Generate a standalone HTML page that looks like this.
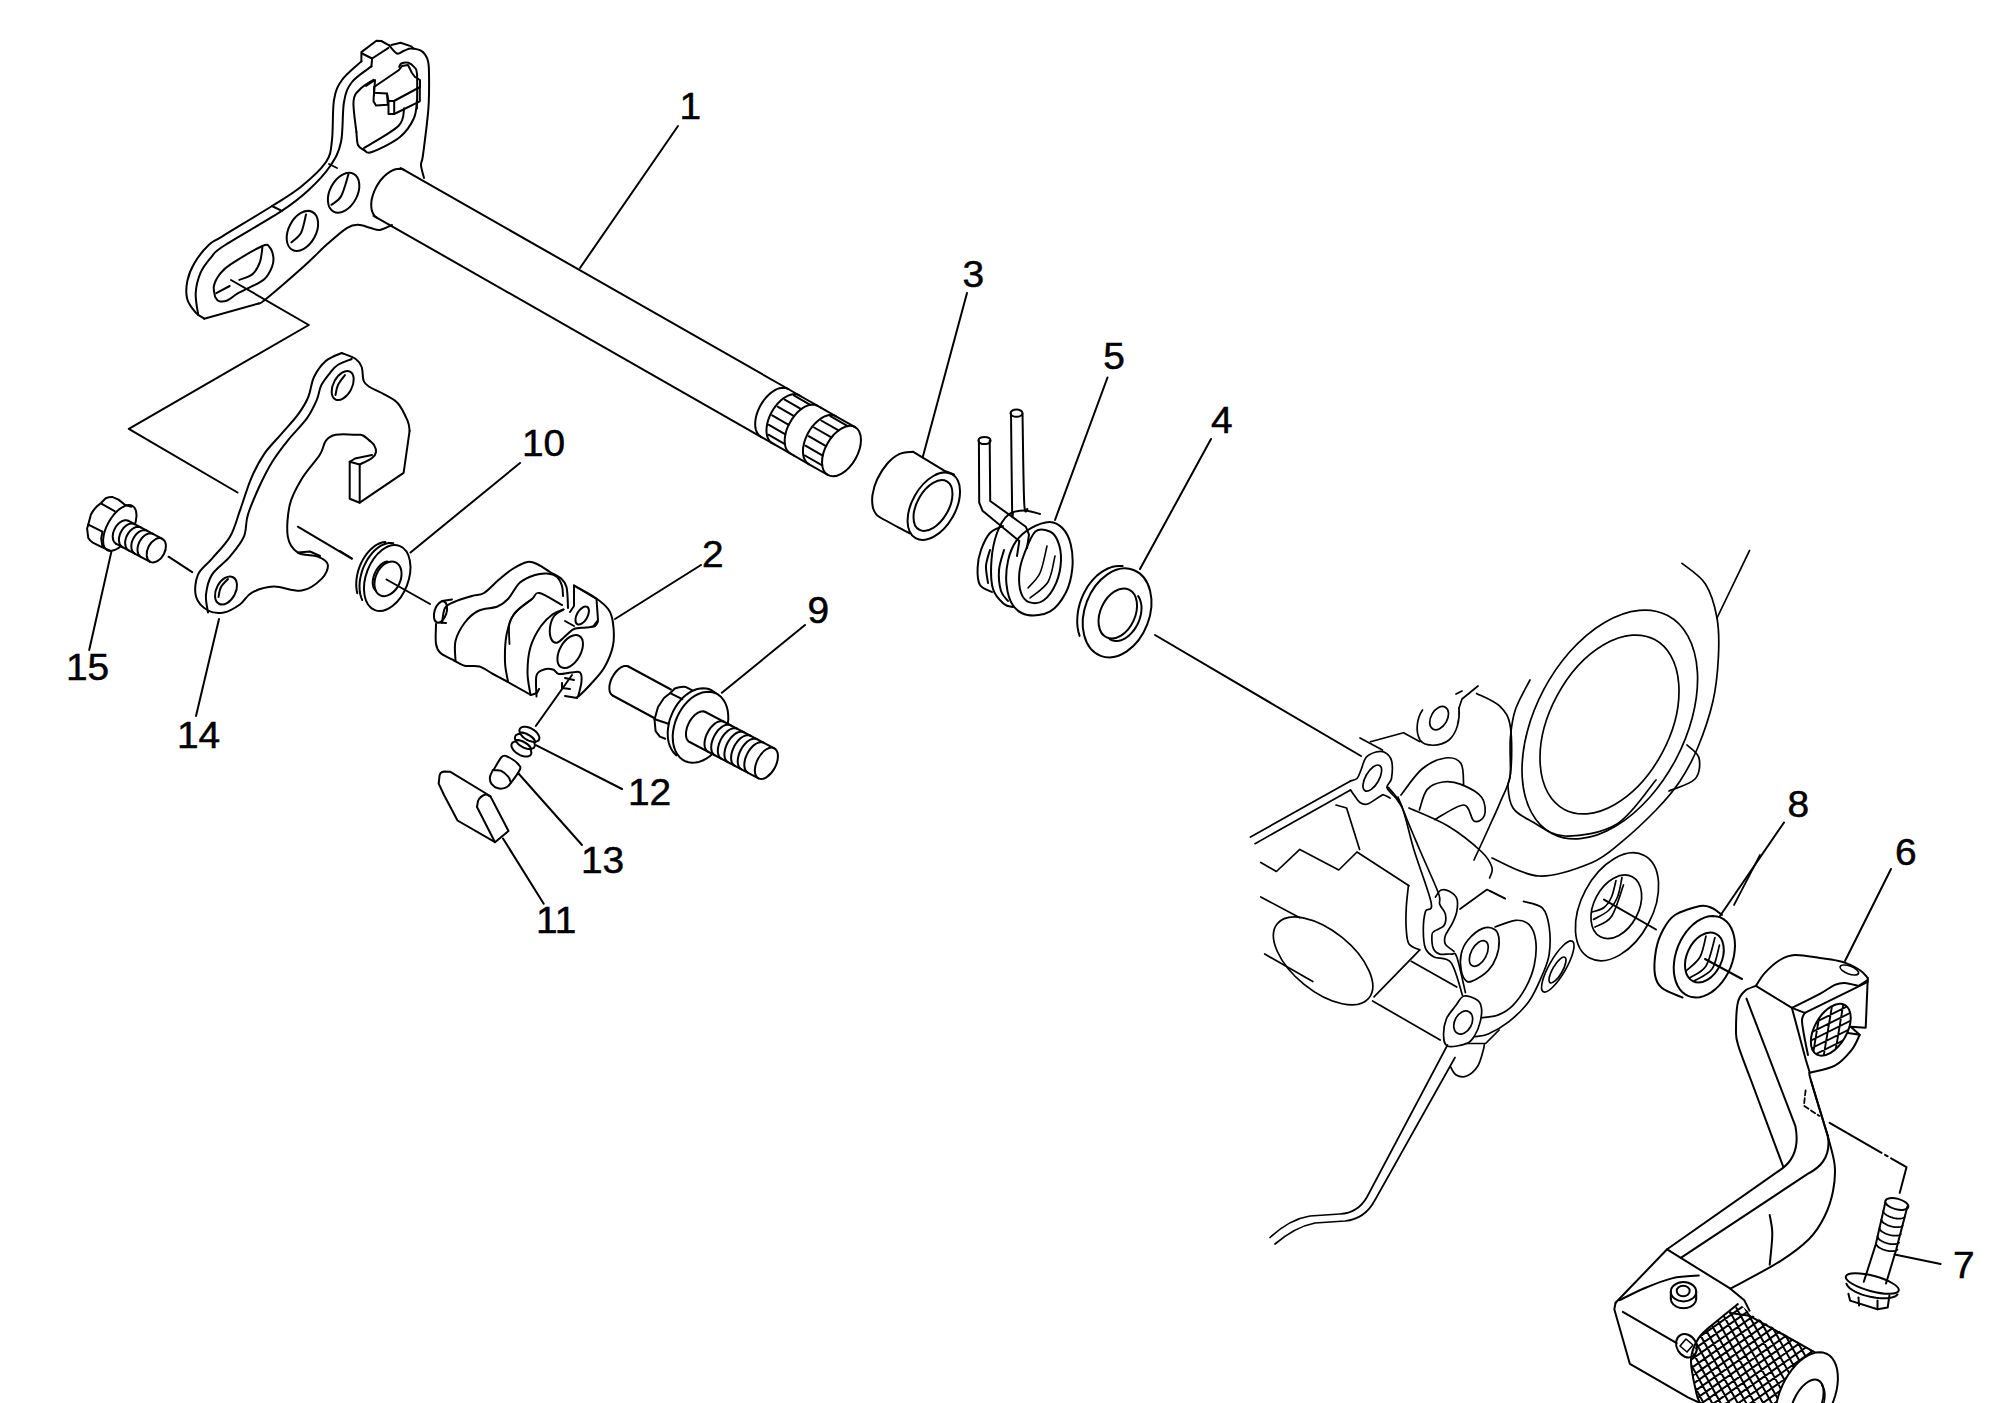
<!DOCTYPE html>
<html><head><meta charset="utf-8"><style>
html,body{margin:0;padding:0;background:#fff;}
svg{display:block;}
text{font-family:"Liberation Sans",sans-serif;fill:#000;}
</style></head><body>
<svg width="2000" height="1403" viewBox="0 0 2000 1403">
<rect width="2000" height="1403" fill="#fff"/>
<g fill="none" stroke="#000" stroke-linejoin="round" stroke-linecap="round">
<path d="M204.2,318.7 C202.8,317.7 198.5,315.8 195.7,312.6 C192.9,309.4 188.7,304.6 187.3,299.3 C185.9,294.1 186.1,287.2 187.3,281.1 C188.5,275.1 190.9,269.1 194.5,263 C198.1,256.9 204.3,249.2 209,244.8 C213.7,240.4 211.9,242.8 222.4,236.3 C232.9,229.8 258.9,214.3 272,206 C285.1,197.7 292,194 301,186.7 C310,179.4 320.8,169.8 326,162 C331.2,154.2 330.7,150.3 332,140 C333.3,129.7 332.3,110 334,100 C335.7,90 337.4,86.4 342,80 C346.6,73.6 358.2,64.5 361.4,61.4" stroke-width="2"/>
<path d="M198.2,315 C197.8,311.4 195.3,300.2 195.7,293.2 C196.1,286.1 198,278.8 200.6,272.7 C203.2,266.6 207.7,261.3 211.5,256.9 C215.3,252.4 211.9,253.7 223.6,246 C235.3,238.3 267.7,220.2 281.8,210.9 C295.9,201.6 300.3,197.8 308.4,190.3 C316.5,182.8 324.8,174.1 330.2,166 C335.6,157.9 338.7,152.7 341,142 C343.3,131.3 342.2,112 344,102 C345.8,92 347.4,87.9 352,82 C356.6,76.1 368.2,69 371.4,66.4" stroke-width="2"/>
<path d="M272,206 L281.8,210.9" stroke-width="2"/>
<path d="M329,164 L337,168" stroke-width="1.8"/>
<path d="M361.4,61.4 L361.4,52.1 L376.4,40.7 L381.3,41 L389.2,45.3" stroke-width="2"/>
<path d="M362.1,53.5 L372.1,58.5 L388.5,47.8" stroke-width="2"/>
<path d="M372.1,58.5 L371.4,66.4" stroke-width="2"/>
<path d="M391.3,45 L400.6,42.8 L411.3,46.4 L413.4,48.5" stroke-width="2"/>
<path d="M389.2,45.3 C390.5,46.7 394.5,52.6 397,53.5 C399.5,54.4 401.6,51.5 404,50.7 C406.4,49.9 408.3,48.4 411.3,48.5 C414.3,48.6 419.3,49.5 422,51.4 C424.7,53.3 426.5,56.4 427.7,60 C428.9,63.6 428.9,64.7 429,72.8 C429.1,80.9 429.4,94.7 428.4,108.4 C427.4,122.1 424.2,145.6 423,155 C421.8,164.4 420.8,161.2 421,165 C421.2,168.8 423.5,175.8 424,178" stroke-width="2"/>
<path d="M204.2,318.7 L258.7,303.5" stroke-width="2"/>
<path d="M258.7,303.5 C259.9,302.8 258.3,305.4 266,299 C273.7,292.6 294.5,274.6 304.8,265.4 C315.1,256.2 320.7,249.9 327.8,243.6 C334.9,237.3 342.1,230.9 347.2,227.8 C352.2,224.7 354.3,224.8 358.1,224.8 C361.9,224.8 366.6,226.9 370.2,227.8 C373.8,228.7 376.4,230.5 380,230 C383.6,229.5 390,225.8 392,225" stroke-width="2"/>
<path d="M356.4,132 C355.9,126.9 352.9,108.4 353.5,101.3 C354.1,94.2 356.7,92.8 360,89.2 C363.3,85.6 371.2,81.5 373.5,79.9" stroke-width="2"/>
<path d="M417,108.4 C417,102.7 417.5,81.1 417,74.2 C416.5,67.3 415.5,68.9 414.1,67 C412.7,65.1 410.5,63.4 408.4,62.8 C406.3,62.2 402.8,62.8 401.3,63.5 C399.8,64.2 399.6,66.4 399.2,67" stroke-width="2"/>
<path d="M356.4,132 C356.7,134.2 356.7,142 358,145 C359.3,148 361.7,148.8 364,150 C366.3,151.2 366,154.2 372,152 C378,149.8 393,142.7 400,137 C407,131.3 411.2,124.2 414,118 C416.8,111.8 416.5,103 417,100" stroke-width="2"/>
<path d="M364,148 C369.7,144.3 391.7,132.6 398.4,126 C405.1,119.4 403.2,111.3 404.1,108.4" stroke-width="2"/>
<path d="M374,87 L399,70 L402,66 L408,65 L412,73 L415,77 L420,80 L420,87 L394,101 L388.5,101 L387,93.4 L374,92.7 Z" stroke-width="2"/>
<path d="M374,92.7 L373.5,101.3 L376,105.6 L387.8,104.8 L387,93.4" stroke-width="2"/>
<path d="M388.5,101.3 L388.5,114 L394.2,114 L394.2,101.3" stroke-width="2"/>
<path d="M394.2,114 L419.8,101.3 L419.8,87" stroke-width="2"/>
<path d="M366,86 L375,80 L374,95" stroke-width="2"/>
<path d="M215.1,296.9 C214.9,295.1 213.1,289.8 213.9,286 C214.7,282.2 217.2,277.5 220,273.9 C222.8,270.3 223.8,268.8 230.9,264.2 C238,259.6 255.9,248.8 262.4,246 C268.8,243.2 267.8,245.4 269.6,247.2 C271.4,249 272.9,253.7 273.3,256.9 C273.7,260.1 273.5,263 272.1,266.6 C270.7,270.2 268.4,275.3 264.8,278.7 C261.2,282.1 254.8,284.8 250.3,287.2 C245.9,289.6 241.9,291 238.1,293.2 C234.2,295.4 230.4,299.2 227.2,300.5 C224,301.8 220.8,301.7 218.8,301.1 C216.8,300.5 215.7,297.6 215.1,296.9" stroke-width="2"/>
<path d="M216.3,293.2 L229.7,286" stroke-width="2"/>
<path d="M239.4,279.9 C241.6,278.9 249.3,276.9 252.7,273.9 C256.1,270.9 258.4,266.2 260,261.8 C261.6,257.4 262,249.6 262.4,247.2" stroke-width="2"/>
<ellipse cx="302.4" cy="230.9" rx="21.4" ry="13.7" transform="rotate(-62 302.4 230.9)" stroke-width="2"/>
<path d="M291.4,242.4 C293,240.8 298.7,237.3 301.1,232.7 C303.5,228 305.2,217.5 306,214.5" stroke-width="2"/>
<ellipse cx="343.6" cy="192.7" rx="21.4" ry="13.7" transform="rotate(-62 343.6 192.7)" stroke-width="2"/>
<path d="M331.4,204.8 C333,203.4 338.3,201.4 341.1,196.3 C343.9,191.2 347.2,178.1 348.4,174.5" stroke-width="2"/>
<path d="M400.8,168.1 L788.2,389" stroke-width="2"/>
<path d="M373.6,215.8 L761,436.8" stroke-width="2"/>
<path d="M377,217.8 L375.7,216.9 L374.4,215.6 L373.4,214.2 L372.6,212.5 L371.9,210.7 L371.5,208.6 L371.3,206.4 L371.2,204 L371.4,201.6 L371.8,199 L372.5,196.4 L373.3,193.8 L374.3,191.2 L375.5,188.6 L376.8,186 L378.3,183.6 L379.9,181.2 L381.7,179 L383.5,177 L385.5,175.1 L387.5,173.5 L389.5,172.1 L391.5,170.9 L393.5,170 L395.5,169.3 L397.5,168.9 L399.3,168.8 L401.1,168.9 L402.8,169.3 L404.3,170" stroke-width="2"/>
<path d="M761,436.8 L759.6,435.8 L758.4,434.6 L757.4,433.2 L756.5,431.5 L755.9,429.7 L755.4,427.6 L755.2,425.4 L755.2,423 L755.4,420.6 L755.8,418 L756.4,415.4 L757.2,412.8 L758.2,410.2 L759.4,407.6 L760.7,405 L762.2,402.6 L763.9,400.2 L765.6,398 L767.5,396 L769.4,394.1 L771.4,392.5 L773.4,391.1 L775.4,389.9 L777.5,388.9 L779.5,388.3 L781.4,387.9 L783.3,387.8 L785,387.9 L786.7,388.3 L788.2,389" stroke-width="2"/>
<path d="M788.2,389 L801.2,396.5" stroke-width="2"/>
<path d="M761,436.8 L774,444.2" stroke-width="2"/>
<path d="M772.3,443.2 L770.9,442.3 L769.7,441.1 L768.6,439.6 L767.8,438 L767.2,436.1 L766.7,434 L766.5,431.8 L766.5,429.5 L766.7,427 L767.1,424.5 L767.7,421.9 L768.5,419.2 L769.5,416.6 L770.7,414 L772,411.5 L773.5,409 L775.2,406.7 L776.9,404.5 L778.8,402.4 L780.7,400.6 L782.7,398.9 L784.7,397.5 L786.7,396.3 L788.8,395.4 L790.8,394.7 L792.7,394.3 L794.6,394.2 L796.3,394.3 L798,394.8 L799.5,395.5" stroke-width="2"/>
<path d="M801.2,396.5 L821.2,407.9" stroke-width="2"/>
<path d="M774,444.2 L794,455.6" stroke-width="2"/>
<path d="M793.8,395.4 L810.3,404.8" stroke-width="2"/>
<path d="M784.7,399.7 L801.2,409.1" stroke-width="2"/>
<path d="M777.6,406.7 L794.1,416.1" stroke-width="2"/>
<path d="M772.2,415.4 L788.7,424.8" stroke-width="2"/>
<path d="M768.9,424.9 L785.4,434.3" stroke-width="2"/>
<path d="M768.4,434.7 L784.9,444.1" stroke-width="2"/>
<path d="M790.5,453.6 L789.1,452.7 L787.9,451.5 L786.9,450 L786,448.4 L785.4,446.5 L785,444.4 L784.7,442.2 L784.7,439.9 L784.9,437.4 L785.3,434.9 L785.9,432.3 L786.7,429.6 L787.7,427 L788.9,424.4 L790.3,421.9 L791.8,419.4 L793.4,417.1 L795.2,414.9 L797,412.8 L798.9,411 L800.9,409.3 L802.9,407.9 L805,406.7 L807,405.8 L809,405.1 L810.9,404.7 L812.8,404.6 L814.6,404.8 L816.2,405.2 L817.8,405.9" stroke-width="2"/>
<path d="M821.2,407.9 L836,416.3" stroke-width="2"/>
<path d="M794,455.6 L808.7,464.1" stroke-width="2"/>
<path d="M808.7,464.1 L807.4,463.1 L806.2,461.9 L805.1,460.4 L804.3,458.8 L803.6,456.9 L803.2,454.8 L803,452.6 L803,450.3 L803.1,447.8 L803.6,445.3 L804.2,442.7 L805,440 L806,437.4 L807.2,434.8 L808.5,432.3 L810,429.8 L811.6,427.5 L813.4,425.3 L815.3,423.2 L817.2,421.4 L819.2,419.7 L821.2,418.3 L823.2,417.1 L825.2,416.2 L827.2,415.5 L829.2,415.1 L831,415 L832.8,415.2 L834.5,415.6 L836,416.3" stroke-width="2"/>
<path d="M830.3,416.2 L847.7,426.1" stroke-width="2"/>
<path d="M821.2,420.5 L838.5,430.4" stroke-width="2"/>
<path d="M814.1,427.5 L831.4,437.4" stroke-width="2"/>
<path d="M808.7,436.2 L826,446.1" stroke-width="2"/>
<path d="M805.4,445.7 L822.7,455.6" stroke-width="2"/>
<path d="M804.9,455.5 L822.2,465.4" stroke-width="2"/>
<path d="M836,416.3 L855.1,427.2" stroke-width="2"/>
<path d="M808.7,464.1 L827.9,475" stroke-width="2"/>
<ellipse cx="841.5" cy="451.1" rx="16" ry="27.5" transform="rotate(29.7 841.5 451.1)" stroke-width="2"/>
<path d="M580,268 L678,126" stroke-width="2"/>
<ellipse cx="933.8" cy="506.2" rx="21.7" ry="36.8" transform="rotate(29.7 933.8 506.2)" stroke-width="2"/>
<ellipse cx="933" cy="505.5" rx="15.8" ry="27.9" transform="rotate(29.7 933 505.5)" stroke-width="2"/>
<path d="M913.3,451.8 C910.9,452.2 903.5,452.2 899.2,454.1 C894.9,456.1 891.1,459.3 887.4,463.5 C883.7,467.7 879.7,474 877.2,479.2 C874.7,484.4 873.2,490.3 872.5,494.9 C871.8,499.5 872.2,503.8 872.8,507 C873.4,510.2 874.5,512.1 876,514 C877.5,515.9 876.4,515.3 882,518.5 C887.6,521.7 904.8,530.8 909.4,533.3" stroke-width="2"/>
<path d="M913.3,451.8 L945.4,471.3 L954,474.5" stroke-width="2"/>
<path d="M967,293 L922.7,457.2" stroke-width="2"/>
<ellipse cx="984.5" cy="440.5" rx="6.1" ry="3.6" transform="rotate(0 984.5 440.5)" stroke-width="2"/>
<ellipse cx="1016.5" cy="413.2" rx="6" ry="3.6" transform="rotate(0 1016.5 413.2)" stroke-width="2"/>
<path d="M978.9,440.9 L979.2,502.6 L982.5,510.7 L1019.3,541.1 L1017,556" stroke-width="2"/>
<path d="M989.7,440.9 L990.2,501 L1025.8,526.7 L1029,534.7 L1027,548" stroke-width="2"/>
<path d="M1011,413.6 C1011.2,429.5 1011.8,492.6 1012.1,509 C1012.4,525.5 1012.9,511.7 1013,512.3" stroke-width="2"/>
<path d="M1022.5,413.6 C1022.8,428.4 1023.4,486.7 1024.2,502.6 C1025,518.5 1026.9,507.9 1027.4,509" stroke-width="2"/>
<path d="M1030.6,528.3 C1036.2,525.1 1044.5,521.9 1049.8,521.9 C1055.1,521.9 1059.1,524.6 1062.6,528.3 C1066.1,532 1069.1,537.6 1070.7,544.3 C1072.3,551 1073.1,560.4 1072.3,568.4 C1071.5,576.4 1069.7,585.3 1065.9,592.5 C1062.2,599.7 1056.2,608 1049.8,611.7 C1043.4,615.4 1033.6,616 1027.4,614.9 C1021.3,613.8 1016.4,610.4 1012.9,605.3 C1009.4,600.2 1007.3,591.9 1006.5,584.4 C1005.7,576.9 1006.5,567.6 1008.1,560.4 C1009.7,553.2 1012.4,546.5 1016.1,541.1 C1019.9,535.8 1025,531.5 1030.6,528.3Z" stroke-width="2"/>
<path d="M1035.4,531.5 C1039.7,527.8 1046.1,529.9 1049.8,531.5 C1053.5,533.1 1055.9,536.3 1057.8,541.1 C1059.7,545.9 1061.3,553.5 1061,560.4 C1060.7,567.3 1059.1,576.1 1056.2,582.8 C1053.3,589.5 1047.9,597.3 1043.4,600.5 C1038.9,603.7 1032.8,603.4 1029,602.1 C1025.2,600.8 1022.5,597.3 1020.9,592.5 C1019.3,587.7 1018.8,579.6 1019.3,573.2 C1019.8,566.8 1021.5,561 1024.2,554 C1026.9,547 1031.1,535.2 1035.4,531.5Z" stroke-width="2"/>
<path d="M1040,514 C1037.3,513.4 1029.3,510.3 1024,510.5 C1018.7,510.7 1012.5,511.2 1008,515 C1003.5,518.8 999.8,525.5 997,533 C994.2,540.5 992.2,550.7 991.5,560 C990.8,569.3 990.9,581.7 993,589 C995.1,596.3 1000.7,601 1004,604 C1007.3,607 1011.5,606.5 1013,607" stroke-width="2"/>
<path d="M1004,550 C1003.2,553.3 999.5,563.2 999,570 C998.5,576.8 999.5,585.8 1001,591 C1002.5,596.2 1006.8,599.3 1008,601" stroke-width="2"/>
<path d="M1003,526 C1000.8,527.2 993.7,529 990,533 C986.3,537 983.1,544.2 981,550 C978.9,555.8 977.8,562.2 977.6,568 C977.4,573.8 977.6,581 980,585 C982.4,589 990,590.8 992,592" stroke-width="2"/>
<path d="M990,550 C989.3,552.7 986.3,560.5 986,566 C985.7,571.5 987.7,580.2 988,583" stroke-width="2"/>
<path d="M1028,588 C1030,585.5 1036.8,580 1040,573 C1043.2,566 1045.8,550.5 1047,546" stroke-width="1.6"/>
<path d="M1030,598 C1033,595.3 1043.8,589 1048,582 C1052.2,575 1053.8,560.3 1055,556" stroke-width="1.6"/>
<path d="M1107.5,377.5 L1055,520" stroke-width="2"/>
<ellipse cx="1117.1" cy="612.9" rx="32.3" ry="46" transform="rotate(21 1117.1 612.9)" stroke-width="2"/>
<path d="M1079.6,635.9 L1078.4,631.8 L1077.6,627.4 L1077.2,622.9 L1077.3,618.2 L1077.7,613.5 L1078.5,608.7 L1079.7,603.9 L1081.3,599.2 L1083.2,594.6 L1085.5,590.2 L1088,586 L1090.9,582.2 L1093.9,578.6 L1097.2,575.4 L1100.7,572.7 L1104.3,570.4 L1107.9,568.5 L1111.6,567.1 L1115.4,566.3 L1119,565.9 L1122.6,566.1" stroke-width="2"/>
<ellipse cx="1117.8" cy="613.5" rx="17.3" ry="26.4" transform="rotate(25 1117.8 613.5)" stroke-width="2"/>
<path d="M1138.1,596 L1139.2,597.8 L1140,599.7 L1140.7,601.8 L1141.2,604.1 L1141.5,606.5 L1141.5,609 L1141.3,611.6 L1140.9,614.2 L1140.3,616.9 L1139.5,619.5 L1138.5,622.2 L1137.3,624.7 L1135.9,627.1 L1134.4,629.5 L1132.7,631.6 L1130.9,633.6 L1129.1,635.4 L1127.1,637 L1125.1,638.3 L1123.1,639.4 L1121,640.2 L1119,640.7 L1117,641 L1115,640.9 L1113.2,640.6 L1111.4,640 L1109.8,639.2" stroke-width="2"/>
<path d="M1211,439 L1140,569" stroke-width="2"/>
<path d="M1155,635 L1361,756" stroke-width="2"/>
<path d="M231,280 L308.8,325 L128.8,428.8 L237.5,492.5" stroke-width="2"/>
<path d="M341.7,353 C344,354 352.4,356.7 355.7,359 C359,361.3 360.4,363.3 361.7,367 C363,370.7 362.4,377.7 363.7,381 C365,384.3 366.7,385 369.7,387 C372.7,389 377,390.3 381.7,393 C386.4,395.7 393.3,398.4 397.6,403 C401.9,407.6 405.6,416.3 407.6,420.9 C409.6,425.5 409.3,429.1 409.6,430.8" stroke-width="2"/>
<path d="M409.6,430.8 L403.6,472.8 L359.7,502.7" stroke-width="2"/>
<path d="M359.7,502.7 L349.7,498.7 L349.7,461.8 L359.7,464.5 L359.7,502.7" stroke-width="2"/>
<path d="M349.7,461.8 L355,458.5 L372,455" stroke-width="2"/>
<path d="M359.7,464.5 C361.8,463.4 369.3,460.1 372,458 C374.7,455.9 375.7,454.2 376,452 C376.3,449.8 375.1,446.9 374,445 C372.9,443.1 370.4,441.5 369.7,440.8" stroke-width="2"/>
<path d="M369.7,440.8 C368.6,439.9 365,436.5 363,435.5 C361,434.5 362.2,434.9 357.7,434.8 C353.1,434.7 341,433.8 335.7,434.8 C330.4,435.8 328.4,437.5 325.8,440.8 C323.2,444.1 323.8,448.5 319.8,454.8 C315.8,461.1 306.8,470.5 301.8,478.8 C296.8,487.1 292.1,495 289.8,504.7 C287.5,514.4 286.5,528.7 287.8,536.7 C289.1,544.7 292.8,549.3 297.8,552.6 C302.8,555.9 312.8,554.6 317.8,556.6 C322.8,558.6 327.1,560.9 327.8,564.6 C328.5,568.3 326.1,574.3 321.8,578.6 C317.5,582.9 309.8,589.3 301.8,590.6 C293.8,591.9 282.1,586.3 273.8,586.6 C265.5,586.9 257.6,589.6 251.9,592.6 C246.2,595.6 244.6,601.2 239.9,604.5 C235.2,607.8 229.2,611.5 223.9,612.5 C218.6,613.5 212.7,613.2 208,610.5 C203.3,607.8 197.7,602.5 196,596.5 C194.3,590.5 195.3,580.9 198,574.6 C200.7,568.3 206.7,564.9 212,558.6 C217.3,552.3 225.3,544.7 230,536.7 C234.7,528.7 236.4,520.4 239.9,510.7 C243.4,501 247.2,487.7 251.2,478.3 C255.2,468.9 259.1,461.5 264.1,454.1 C269.1,446.7 275.5,440.8 281.2,434.1 C286.9,427.4 293.8,420.3 298.3,414.1 C302.8,407.9 305.7,403.2 308.3,397 C310.9,390.8 311.1,383 314,377 C316.9,371 321.2,365 325.8,361 C330.4,357 339.1,354.3 341.7,353" stroke-width="2"/>
<path d="M351.7,359 C349.4,360 341.3,362.7 337.7,365 C334.1,367.3 332.9,369.4 330.1,372.8 C327.3,376.2 323.3,381.1 321.1,385.6 C318.9,390.1 319.2,394.4 316.8,399.9 C314.4,405.4 311.6,411.8 306.9,418.4 C302.1,425 294,432.7 288.3,439.8 C282.6,446.9 277.4,453.6 272.6,461.2 C267.9,468.8 263.9,476.6 259.8,485.5 C255.7,494.4 250.6,506.2 247.9,514.7 C245.2,523.2 246.9,529.7 243.9,536.7 C240.9,543.7 235.2,550.3 229.9,556.6 C224.6,562.9 216,568.3 212,574.6 C208,580.9 206.7,588.3 206,594.6 C205.3,600.9 207.7,609.5 208,612.5" stroke-width="2"/>
<path d="M297.8,552.6 L310,551.5 L320,556" stroke-width="2"/>
<ellipse cx="342.7" cy="385.5" rx="15.7" ry="9.3" transform="rotate(-62 342.7 385.5)" stroke-width="2"/>
<path d="M335.5,395 C335.9,393.3 336.4,388.3 338,385 C339.6,381.7 343.8,376.7 345,375" stroke-width="2"/>
<ellipse cx="226" cy="590.5" rx="15" ry="9.6" transform="rotate(-62 226 590.5)" stroke-width="2"/>
<path d="M218.5,597 C218.9,595.3 219.4,590 221,587 C222.6,584 226.8,580.3 228,579" stroke-width="2"/>
<path d="M297.8,526.7 L351.7,558.6" stroke-width="2"/>
<path d="M219,619 L196,716" stroke-width="2"/>
<path d="M88.3,524.6 L90.9,514.4 Q95,507 101.2,502.8 L105.7,498.3 Q109,497 112.7,497.1 L118.5,499.6 L124.9,504.8 L131.3,506.7" stroke-width="2"/>
<path d="M88.3,524.6 L87.1,528.5 L88.3,538.1 Q90,541 92.8,542.6 L101.8,547.1 L110.8,550.9" stroke-width="2"/>
<path d="M101.8,503.8 L114.6,511.2" stroke-width="2"/>
<path d="M88.3,524.6 L102.4,531.7" stroke-width="2"/>
<path d="M102.4,531.7 L101.2,538.7 L102.4,546.4" stroke-width="2"/>
<ellipse cx="119.8" cy="528" rx="12.5" ry="25.5" transform="rotate(29.7 119.8 528)" stroke-width="2"/>
<path d="M116.3,543.9 L115.4,543.3 L114.6,542.5 L113.9,541.5 L113.4,540.4 L113,539.1 L112.8,537.7 L112.7,536.2 L112.9,534.7 L113.1,533.1 L113.6,531.5 L114.2,530 L114.9,528.4 L115.7,527 L116.7,525.6 L117.8,524.3 L118.9,523.2 L120.1,522.3 L121.4,521.5 L122.6,520.9 L123.9,520.5 L125.1,520.3 L126.3,520.3 L127.4,520.5 L128.5,520.9 L162.4,538.8 L163.3,539.4 L164.1,540.2 L164.8,541.2 L165.3,542.3 L165.7,543.6 L165.9,545 L166,546.5 L165.8,548 L165.6,549.6 L165.1,551.2 L164.5,552.7 L163.8,554.3 L163,555.7 L162,557.1 L160.9,558.4 L159.8,559.5 L158.6,560.4 L157.3,561.2 L156.1,561.8 L154.8,562.2 L153.6,562.4 L152.4,562.4 L151.3,562.2 L150.2,561.8Z" fill="#fff" stroke="none"/>
<path d="M116.3,543.9 L115.4,543.3 L114.6,542.5 L113.9,541.5 L113.4,540.4 L113,539.1 L112.8,537.7 L112.7,536.2 L112.9,534.7 L113.1,533.1 L113.6,531.5 L114.2,530 L114.9,528.4 L115.7,527 L116.7,525.6 L117.8,524.3 L118.9,523.2 L120.1,522.3 L121.4,521.5 L122.6,520.9 L123.9,520.5 L125.1,520.3 L126.3,520.3 L127.4,520.5 L128.5,520.9" stroke-width="2"/>
<path d="M128.5,520.9 L162.4,538.8" stroke-width="2"/>
<path d="M150.2,561.8 L116.3,543.9" stroke-width="2"/>
<ellipse cx="156.3" cy="550.3" rx="8.5" ry="13" transform="rotate(27.8 156.3 550.3)" stroke-width="2"/>
<path d="M122.5,547.2 L121.4,546.4 L120.5,545.4 L119.8,544.1 L119.3,542.6 L119,541 L118.9,539.2 L119.1,537.4 L119.6,535.4 L120.2,533.5 L121.1,531.7 L122.1,530 L123.3,528.3 L124.6,526.9 L126.1,525.7 L127.6,524.7 L129.1,524 L130.6,523.6 L132,523.5 L133.4,523.7 L134.7,524.2" stroke-width="2"/>
<path d="M128.7,550.4 L127.6,549.7 L126.7,548.6 L126,547.4 L125.5,545.9 L125.2,544.3 L125.1,542.5 L125.3,540.6 L125.8,538.7 L126.4,536.8 L127.3,535 L128.3,533.2 L129.5,531.6 L130.8,530.2 L132.3,529 L133.8,528 L135.3,527.3 L136.8,526.9 L138.2,526.8 L139.6,527 L140.9,527.4" stroke-width="2"/>
<path d="M134.9,553.7 L133.8,552.9 L132.9,551.9 L132.1,550.6 L131.6,549.2 L131.4,547.5 L131.3,545.8 L131.5,543.9 L131.9,542 L132.6,540.1 L133.5,538.2 L134.5,536.5 L135.7,534.9 L137,533.5 L138.5,532.2 L139.9,531.3 L141.5,530.6 L143,530.2 L144.4,530 L145.8,530.2 L147,530.7" stroke-width="2"/>
<path d="M141.1,557 L140,556.2 L139.1,555.2 L138.3,553.9 L137.8,552.4 L137.6,550.8 L137.5,549 L137.7,547.2 L138.1,545.3 L138.8,543.4 L139.6,541.5 L140.7,539.8 L141.9,538.1 L143.2,536.7 L144.6,535.5 L146.1,534.5 L147.7,533.8 L149.2,533.4 L150.6,533.3 L152,533.5 L153.2,534" stroke-width="2"/>
<path d="M111.4,551.6 L89.2,650" stroke-width="2"/>
<path d="M168.5,556.7 L192.2,572.1" stroke-width="2"/>
<ellipse cx="387.2" cy="578" rx="21.1" ry="34.4" transform="rotate(21 387.2 578)" stroke-width="2"/>
<path d="M362.2,600 L361.2,597.5 L360.4,594.8 L359.8,591.8 L359.6,588.7 L359.5,585.4 L359.7,582 L360.2,578.6 L361,575.1 L361.9,571.6 L363.1,568.2 L364.6,564.9 L366.2,561.7 L368,558.6 L370,555.8 L372.1,553.1 L374.3,550.7 L376.6,548.7 L379,546.9 L381.5,545.4 L383.9,544.3 L386.3,543.5 L388.7,543.1 L391.1,543 L393.3,543.3" stroke-width="2"/>
<path d="M357.3,593.2 L356.7,590.2 L356.3,587.1 L356.2,583.9 L356.4,580.5 L356.8,577.1 L357.5,573.6 L358.4,570.1 L359.6,566.7 L361,563.3 L362.7,560.1 L364.5,557 L366.5,554.2 L368.6,551.6 L370.9,549.2 L373.2,547.2 L375.6,545.4 L378.1,544 L380.5,543 L383,542.3 L385.4,542" stroke-width="2"/>
<ellipse cx="388" cy="578.8" rx="12.3" ry="18.2" transform="rotate(25 388 578.8)" stroke-width="2"/>
<path d="M375.7,590.6 L374.9,589.8 L374.3,588.9 L373.7,587.9 L373.3,586.7 L373,585.4 L372.8,584.1 L372.7,582.6 L372.8,581.1 L373,579.5 L373.3,577.9 L373.7,576.3 L374.2,574.7 L374.9,573.1 L375.6,571.6 L376.4,570.1 L377.4,568.7 L378.3,567.4 L379.4,566.1 L380.5,565 L381.6,564.1 L382.8,563.2 L384,562.5 L385.1,562 L386.3,561.6 L387.4,561.4" stroke-width="2"/>
<path d="M386.5,579.5 L430,604" stroke-width="2"/>
<path d="M340,551 L352,558.5" stroke-width="2"/>
<path d="M410.5,552.5 L520,463" stroke-width="2"/>
<ellipse cx="440.5" cy="612" rx="6" ry="11" transform="rotate(18 440.5 612)" stroke-width="2"/>
<path d="M442,601 L452,599.5" stroke-width="2"/>
<path d="M440,622.5 L446,623" stroke-width="2"/>
<path d="M436,624 C436,627.3 435.2,639.2 436,644 C436.8,648.8 437.5,650.2 440.5,653 C443.5,655.8 450,658.4 454,660.5 C458,662.6 460.2,664.7 464.5,665.7 C468.8,666.7 474.8,665.1 479.5,666.5 C484.2,667.9 488.2,671.4 493,674 C497.8,676.6 505.5,680.7 508,682" stroke-width="2"/>
<path d="M442,623 C442.5,620.5 443,611.5 445,608 C447,604.5 449.5,604 454,602 C458.5,600 467,597.5 472,596 C477,594.5 479.5,595.8 484,593 C488.5,590.2 494.2,583.5 499,579.5 C503.8,575.5 507.8,571.9 512.5,569 C517.2,566.1 523.2,562.8 527.5,562 C531.8,561.2 534.2,562.8 538,564.5 C541.8,566.2 546.2,569.8 550,572 C553.8,574.2 557.8,575.5 560.5,578 C563.2,580.5 565.2,582 566.5,587 C567.8,592 567.8,604.5 568,608" stroke-width="2"/>
<path d="M455.5,660.5 C455.5,657.2 454,647.2 455.5,641 C457,634.8 460.8,628 464.5,623 C468.2,618 472.5,613.8 478,611 C483.5,608.2 492.5,608.5 497.5,606.5 C502.5,604.5 504.2,603 508,599 C511.8,595 515.5,586.5 520,582.5 C524.5,578.5 530.5,576.5 535,575 C539.5,573.5 543.3,573.2 547,573.5 C550.7,573.8 554.5,574.9 557,577 C559.5,579.1 561,582.8 562,586 C563,589.2 562.8,594.3 563,596" stroke-width="2"/>
<path d="M508,681.5 C507.5,678.2 505.2,669.8 505,662 C504.8,654.2 505,643 506.5,635 C508,627 509.8,620 514,614 C518.2,608 527.8,602.5 532,599 C536.2,595.5 534.5,592 539.5,593 C544.5,594 558.2,603 562,605" stroke-width="2"/>
<path d="M509.5,644 C509.5,640.5 508.2,628.5 509.5,623 C510.8,617.5 513.2,615 517,611 C520.8,607 529.5,601 532,599" stroke-width="1.8"/>
<path d="M530.5,695 C530,691.2 527.5,680.5 527.5,672.5 C527.5,664.5 528.2,654.8 530.5,647 C532.8,639.2 537.2,631.5 541,626 C544.8,620.5 549.2,616.8 553,614 C556.8,611.2 561.8,610.2 563.5,609.5" stroke-width="2"/>
<path d="M574,585.5 C577.5,587.5 589.2,593.5 595,597.5 C600.8,601.5 605.5,605.2 608.5,609.5 C611.5,613.8 612.2,617 613,623 C613.8,629 614.5,638 613,645.5 C611.5,653 608,661.2 604,668 C600,674.8 593.2,681.2 589,686 C584.8,690.8 580.2,694.8 578.5,696.5" stroke-width="2"/>
<path d="M574,585.5 L574,606 L570,612" stroke-width="2"/>
<path d="M574,585.5 L596.5,599 L598,620 L593.5,626" stroke-width="2"/>
<path d="M563.5,609.5 C562,610.5 556.8,612.5 554.5,615.5 C552.2,618.5 550.5,623.5 550,627.5 C549.5,631.5 550.2,637 551.5,639.5 C552.8,642 555,643.2 557.5,642.5 C560,641.8 563.8,637.2 566.5,635 C569.2,632.8 570.8,630.2 574,629 C577.2,627.8 582.5,628 586,627.5 C589.5,627 593,627 595,626 C597,625 597.5,622.2 598,621.5" stroke-width="2"/>
<path d="M565,621 L574,626" stroke-width="2"/>
<ellipse cx="570.2" cy="651.5" rx="18.1" ry="10.4" transform="rotate(-60 570.2 651.5)" stroke-width="2"/>
<ellipse cx="582.2" cy="615.5" rx="9.9" ry="5.3" transform="rotate(-60 582.2 615.5)" stroke-width="2"/>
<path d="M536.5,696.5 C536.5,693 535.2,680 536.5,675.5 C537.8,671 541.2,670.5 544,669.5 C546.8,668.5 550.5,668.8 553,669.5 C555.5,670.2 556,673.5 559,674 C562,674.5 567.5,672.8 571,672.5 C574.5,672.2 578.2,671 580,672.5 C581.8,674 581.8,677.8 581.5,681.5 C581.2,685.2 579.2,692.4 578.5,695 C577.8,697.6 577.2,696.7 577,697" stroke-width="2"/>
<path d="M565,678 L574,680" stroke-width="2"/>
<path d="M562,683 L562,688 L570,689" stroke-width="2"/>
<path d="M508,682 L531,695 L537,693 L539,689" stroke-width="2"/>
<path d="M565,696 L577,698" stroke-width="2"/>
<path d="M701,565 L615,619" stroke-width="2"/>
<path d="M612.6,695.5 L611.7,694.8 L610.9,693.9 L610.2,692.8 L609.7,691.4 L609.5,689.9 L609.4,688.2 L609.4,686.4 L609.7,684.5 L610.2,682.6 L610.8,680.6 L611.6,678.6 L612.6,676.7 L613.7,674.9 L614.9,673.1 L616.2,671.5 L617.6,670 L619,668.8 L620.5,667.7 L621.9,666.9 L623.3,666.3 L624.7,666 L626,665.9 L627.3,666.1 L628.4,666.5 L670.9,689.5 L671.8,690.2 L672.6,691.1 L673.3,692.2 L673.8,693.6 L674,695.1 L674.1,696.8 L674.1,698.6 L673.8,700.5 L673.3,702.4 L672.7,704.4 L671.9,706.4 L670.9,708.3 L669.8,710.1 L668.6,711.9 L667.3,713.5 L665.9,715 L664.5,716.2 L663,717.3 L661.6,718.1 L660.2,718.7 L658.8,719 L657.5,719.1 L656.2,718.9 L655.1,718.5Z" fill="#fff" stroke="none"/>
<path d="M612.6,695.5 L611.7,694.8 L610.9,693.9 L610.2,692.8 L609.7,691.4 L609.5,689.9 L609.4,688.2 L609.4,686.4 L609.7,684.5 L610.2,682.6 L610.8,680.6 L611.6,678.6 L612.6,676.7 L613.7,674.9 L614.9,673.1 L616.2,671.5 L617.6,670 L619,668.8 L620.5,667.7 L621.9,666.9 L623.3,666.3 L624.7,666 L626,665.9 L627.3,666.1 L628.4,666.5" stroke-width="2"/>
<path d="M628.4,666.5 L670.9,689.5" stroke-width="2"/>
<path d="M655.1,718.5 L612.6,695.5" stroke-width="2"/>
<path d="M654.5,719.5 L655.6,731.2 L659.9,736.6 L665.2,738.7" stroke-width="2"/>
<path d="M670.6,692.8 L674.8,688.5 Q680,686.5 685.5,686.9 L691.9,690.1" stroke-width="2"/>
<path d="M670.6,693.3 L682.3,699.2" stroke-width="2"/>
<path d="M655.6,719.5 L668.4,723.8" stroke-width="2"/>
<path d="M654.5,719.5 L658,707 L664,698 L670.6,692.8" stroke-width="2"/>
<path d="M676.5,755.4 L674.5,753.5 L672.7,751.3 L671.1,748.7 L669.8,745.9 L668.8,742.8 L668.1,739.5 L667.8,736 L667.7,732.3 L668,728.6 L668.6,724.8 L669.4,721 L670.6,717.3 L672.1,713.6 L673.8,710 L675.8,706.6 L678,703.3 L680.4,700.3 L683,697.6 L685.7,695.2 L688.6,693.1 L691.5,691.4 L694.4,690 L697.4,689 L700.4,688.4 L703.3,688.2 L706.1,688.4 L708.8,689 L711.3,690.1 L713.6,691.5 L715.8,693.2 L717.7,695.4" stroke-width="2"/>
<path d="M723.8,737.6 L721.6,742 L719.1,746.1 L716.2,749.9 L713.1,753.2 L709.8,756.2 L706.3,758.6 L702.7,760.5 L699,761.9 L695.4,762.6 L691.9,762.8 L688.5,762.3 L685.4,761.3 L682.4,759.6 L679.8,757.4 L677.6,754.7 L675.7,751.5 L674.3,747.9 L673.3,744 L672.8,739.7 L672.7,735.3 L673.2,730.7 L674.1,726 L675.4,721.4 L677.2,716.9 L679.4,712.5 L681.9,708.4 L684.8,704.6 L687.9,701.3 L691.2,698.3 L694.7,695.9 L698.3,694 L702,692.6 L705.6,691.9 L709.1,691.7 L712.5,692.2 L715.6,693.2 L718.6,694.9 L721.2,697.1 L723.4,699.8 L725.3,703 L726.7,706.6 L727.7,710.5 L728.2,714.8 L728.3,719.2 L727.8,723.8 L726.9,728.5 L725.6,733.1 L723.8,737.6Z" stroke-width="2" fill="#fff"/>
<path d="M689.6,742 L688.5,741.3 L687.7,740.4 L687,739.2 L686.4,737.8 L686.1,736.2 L686,734.5 L686,732.6 L686.3,730.7 L686.7,728.7 L687.3,726.6 L688.1,724.6 L689.1,722.6 L690.2,720.6 L691.4,718.8 L692.8,717.2 L694.2,715.6 L695.7,714.3 L697.2,713.2 L698.7,712.4 L700.2,711.8 L701.6,711.4 L703,711.3 L704.3,711.5 L705.4,712 L774.3,748.3 L775.4,749 L776.2,749.9 L776.9,751.1 L777.5,752.5 L777.8,754.1 L777.9,755.8 L777.9,757.7 L777.6,759.6 L777.2,761.6 L776.6,763.7 L775.8,765.7 L774.8,767.7 L773.7,769.7 L772.5,771.5 L771.1,773.1 L769.7,774.7 L768.2,776 L766.7,777.1 L765.2,777.9 L763.7,778.5 L762.3,778.9 L760.9,779 L759.6,778.8 L758.5,778.3Z" fill="#fff" stroke="none"/>
<path d="M689.6,742 L688.5,741.3 L687.7,740.4 L687,739.2 L686.4,737.8 L686.1,736.2 L686,734.5 L686,732.6 L686.3,730.7 L686.7,728.7 L687.3,726.6 L688.1,724.6 L689.1,722.6 L690.2,720.6 L691.4,718.8 L692.8,717.2 L694.2,715.6 L695.7,714.3 L697.2,713.2 L698.7,712.4 L700.2,711.8 L701.6,711.4 L703,711.3 L704.3,711.5 L705.4,712" stroke-width="2"/>
<path d="M705.4,712 L774.3,748.3" stroke-width="2"/>
<path d="M758.5,778.3 L689.6,742" stroke-width="2"/>
<ellipse cx="766.4" cy="763.3" rx="9.5" ry="17" transform="rotate(27.8 766.4 763.3)" stroke-width="2"/>
<path d="M708.2,751.8 L706.9,751 L705.9,749.7 L705.2,748.2 L704.7,746.4 L704.5,744.3 L704.6,742 L705,739.7 L705.6,737.2 L706.5,734.8 L707.7,732.4 L709,730.1 L710.5,727.9 L712.2,726 L713.9,724.4 L715.7,723 L717.5,722 L719.3,721.4 L721,721.1 L722.6,721.2 L724,721.7" stroke-width="2"/>
<path d="M714.8,755.3 L713.6,754.4 L712.6,753.2 L711.8,751.7 L711.4,749.8 L711.2,747.8 L711.3,745.5 L711.6,743.2 L712.3,740.7 L713.2,738.3 L714.3,735.9 L715.7,733.6 L717.2,731.4 L718.8,729.5 L720.6,727.9 L722.4,726.5 L724.2,725.5 L726,724.9 L727.7,724.6 L729.2,724.7 L730.6,725.2" stroke-width="2"/>
<path d="M721.4,758.8 L720.2,757.9 L719.2,756.7 L718.5,755.2 L718,753.3 L717.8,751.3 L717.9,749 L718.3,746.7 L718.9,744.2 L719.8,741.8 L720.9,739.4 L722.3,737.1 L723.8,734.9 L725.5,733 L727.2,731.4 L729,730 L730.8,729 L732.6,728.4 L734.3,728.1 L735.9,728.2 L737.3,728.7" stroke-width="2"/>
<path d="M728.1,762.3 L726.8,761.4 L725.9,760.2 L725.1,758.7 L724.6,756.8 L724.4,754.8 L724.5,752.5 L724.9,750.2 L725.5,747.7 L726.4,745.3 L727.6,742.8 L728.9,740.5 L730.4,738.4 L732.1,736.5 L733.8,734.9 L735.6,733.5 L737.5,732.5 L739.2,731.9 L740.9,731.6 L742.5,731.7 L743.9,732.2" stroke-width="2"/>
<path d="M734.7,765.8 L733.5,764.9 L732.5,763.7 L731.7,762.2 L731.3,760.3 L731.1,758.3 L731.2,756 L731.5,753.7 L732.2,751.2 L733.1,748.8 L734.2,746.3 L735.6,744 L737.1,741.9 L738.7,740 L740.5,738.3 L742.3,737 L744.1,736 L745.9,735.4 L747.6,735.1 L749.1,735.2 L750.5,735.7" stroke-width="2"/>
<path d="M741.3,769.3 L740.1,768.4 L739.1,767.2 L738.4,765.7 L737.9,763.8 L737.7,761.8 L737.8,759.5 L738.2,757.2 L738.8,754.7 L739.7,752.2 L740.9,749.8 L742.2,747.5 L743.7,745.4 L745.4,743.5 L747.1,741.8 L748.9,740.5 L750.7,739.5 L752.5,738.9 L754.2,738.6 L755.8,738.7 L757.2,739.2" stroke-width="2"/>
<path d="M748,772.8 L746.8,771.9 L745.8,770.7 L745,769.2 L744.5,767.3 L744.3,765.3 L744.4,763 L744.8,760.6 L745.4,758.2 L746.4,755.7 L747.5,753.3 L748.8,751 L750.3,748.9 L752,747 L753.7,745.3 L755.6,744 L757.4,743 L759.1,742.4 L760.8,742.1 L762.4,742.2 L763.8,742.7" stroke-width="2"/>
<path d="M721.9,692.8 L805,625" stroke-width="2"/>
<path d="M530.9,754.5 L530.3,755.3 L529.3,755.9 L528.1,756.4 L526.8,756.6 L525.2,756.5 L523.6,756.2 L521.8,755.8 L520.1,755.1 L518.4,754.2 L516.8,753.2 L515.3,752 L514,750.8 L513,749.4 L512.2,748.1 L511.6,746.8 L511.4,745.6 L511.5,744.5 L511.9,743.5 L512.5,742.7 L513.5,742.1 L514.6,741.6 L516,741.4 L517.6,741.5 L519.2,741.8 L521,742.2 L522.7,742.9 L524.4,743.8 L526,744.8 L527.5,746 L528.8,747.2 L529.8,748.6 L530.6,749.9 L531.1,751.2 L531.4,752.4 L531.3,753.5 L530.9,754.5Z" stroke-width="2" fill="#fff"/>
<path d="M534.4,747 L533.8,747.8 L532.8,748.4 L531.6,748.9 L530.3,749.1 L528.7,749 L527.1,748.8 L525.3,748.3 L523.6,747.6 L521.9,746.7 L520.3,745.7 L518.8,744.5 L517.5,743.2 L516.5,741.9 L515.7,740.6 L515.1,739.3 L514.9,738.1 L515,737 L515.4,736 L516,735.2 L517,734.6 L518.1,734.1 L519.5,733.9 L521.1,734 L522.7,734.2 L524.5,734.7 L526.2,735.4 L527.9,736.3 L529.5,737.3 L531,738.5 L532.3,739.8 L533.3,741.1 L534.1,742.4 L534.6,743.7 L534.9,744.9 L534.8,746 L534.4,747Z" stroke-width="2" fill="#fff"/>
<path d="M538.9,739.8 L538.3,740.6 L537.3,741.2 L536.1,741.7 L534.8,741.9 L533.2,741.8 L531.6,741.5 L529.8,741.1 L528.1,740.4 L526.4,739.5 L524.8,738.5 L523.3,737.3 L522,736 L521,734.7 L520.2,733.4 L519.6,732.1 L519.4,730.9 L519.5,729.8 L519.9,728.8 L520.5,728 L521.5,727.4 L522.6,726.9 L524,726.7 L525.6,726.8 L527.2,727 L529,727.5 L530.7,728.2 L532.4,729.1 L534,730.1 L535.5,731.3 L536.8,732.5 L537.8,733.9 L538.6,735.2 L539.1,736.5 L539.4,737.7 L539.3,738.8 L538.9,739.8Z" stroke-width="2" fill="#fff"/>
<path d="M516.3,740.2 L516.8,740.1 L517.3,740.1 L517.9,740.1 L518.6,740.2 L519.3,740.3 L520.1,740.5 L520.9,740.7 L521.7,741 L522.5,741.3 L523.4,741.7 L524.2,742.2 L525,742.6 L525.8,743.1 L526.6,743.6 L527.3,744.2 L528,744.7 L528.6,745.3 L529.2,745.9 L529.7,746.4 L530.1,747 L530.4,747.5 L530.7,748.1 L530.9,748.5 L531,749 L531,749.4" stroke-width="2.2"/>
<path d="M520.3,732.7 L520.8,732.6 L521.3,732.6 L521.9,732.6 L522.6,732.7 L523.3,732.8 L524.1,733 L524.9,733.2 L525.7,733.5 L526.5,733.8 L527.4,734.2 L528.2,734.7 L529,735.1 L529.8,735.6 L530.6,736.1 L531.3,736.7 L532,737.2 L532.6,737.8 L533.2,738.4 L533.7,738.9 L534.1,739.5 L534.4,740 L534.7,740.6 L534.9,741 L535,741.5 L535,741.9" stroke-width="2.2"/>
<path d="M535.8,726 L572,675" stroke-width="2"/>
<path d="M536.4,745.3 L622,789" stroke-width="2"/>
<path d="M494.1,769 C495.5,766.9 499.3,759.7 501.2,757.5 C503.1,755.3 503.7,755.5 505.7,755.9 C507.7,756.3 511.2,758.5 513.4,760 C515.6,761.5 518,763.6 519.1,765.2 C520.2,766.8 521.3,766.6 519.8,769.7 C518.3,772.8 512.5,780.8 510.1,783.8 C507.8,786.8 507.7,786.9 505.7,787.6 C503.7,788.4 500.4,788.9 498,788.3 C495.6,787.7 492.9,785.6 491.5,783.8 C490.1,782 489.7,779.6 489.9,777.4 C490.1,775.1 492.1,771.7 492.8,770.3 C493.5,768.9 492.7,771.1 494.1,769Z" stroke-width="2"/>
<path d="M494.1,770.3 C495.3,770.4 498.9,769.8 501.2,770.9 C503.5,772 506.6,774.8 508.2,776.7 C509.8,778.6 510.4,781.5 510.8,782.5" stroke-width="2"/>
<path d="M518.5,773.5 L582,845" stroke-width="2"/>
<path d="M438.7,783.7 L439.5,776 Q440,772 444,771.5 L450,771.7 L486,793.5 L490.5,796.5 L508.5,831 L495,842.2 L457.5,820.5 L444,795 Z" stroke-width="2"/>
<path d="M477,807 L478,801 Q480,796 486,794.2 L490.5,796.5" stroke-width="2"/>
<path d="M477,807 L495,842.2" stroke-width="2"/>
<path d="M503,838.5 L543.7,903.7" stroke-width="2"/>
<ellipse cx="1609.8" cy="724.5" rx="123.4" ry="74.7" transform="rotate(-62 1609.8 724.5)" stroke-width="1.7"/>
<ellipse cx="1609.5" cy="724.5" rx="96.2" ry="59.8" transform="rotate(-62 1609.5 724.5)" stroke-width="1.7"/>
<path d="M1682,563.4 C1685.9,566.8 1699.6,574.9 1705.4,584 C1711.2,593.1 1714.8,605.8 1717,618 C1719.2,630.2 1719.1,643.2 1718.4,657 C1717.7,670.8 1716.5,685.8 1713,701 C1709.5,716.2 1703.2,734.5 1697.6,748 C1692,761.5 1686.3,771.7 1679.4,782 C1672.5,792.3 1665.6,800.1 1656,810 C1646.4,819.9 1632.8,832.8 1622,841.6 C1611.2,850.4 1604.8,857.3 1591,863 C1577.2,868.7 1555.5,876.8 1539,876 C1522.5,875.2 1499.8,861 1492,858" stroke-width="1.7"/>
<path d="M1749.6,550.4 L1717,618" stroke-width="1.7"/>
<path d="M1687,745 C1689,747.2 1697.7,752.3 1699,758 C1700.3,763.7 1700,773.5 1695,779 C1690,784.5 1673.3,789 1669,791" stroke-width="1.7"/>
<path d="M1530,680 C1527.6,684.8 1518.9,699.4 1515.6,709 C1512.3,718.6 1511.3,726.8 1510.4,737.6 C1509.5,748.4 1510.8,765.8 1510.4,774 C1510,782.2 1507.6,781.3 1508,787 C1508.4,792.7 1509.2,802.3 1513,808 C1516.8,813.7 1522.3,816.3 1531,821 C1539.7,825.7 1550.7,835.5 1565,836 C1579.3,836.5 1601.8,833.3 1617,824 C1632.2,814.7 1649.5,787.3 1656,780" stroke-width="1.7"/>
<path d="M1476.6,693.4 C1480.5,695.6 1494.4,700.8 1500,706.4 C1505.6,712 1508.7,715.7 1510.4,727 C1512.1,738.3 1512.1,761.4 1510.4,774 C1508.7,786.6 1503.5,793.9 1500,802.6 C1496.5,811.3 1493.9,816.4 1489.6,826 C1485.3,835.6 1476.6,854.3 1474,860" stroke-width="1.7"/>
<path d="M1422.5,710 C1417,718 1415,731 1420,740 C1425,747 1440,747 1449,740 C1457,733 1460,720 1459,708" stroke-width="1.7"/>
<ellipse cx="1439.1" cy="718.1" rx="12.6" ry="8.1" transform="rotate(-60 1439.1 718.1)" stroke-width="1.7"/>
<path d="M1459,708 L1462,699 L1478,686" stroke-width="1.7"/>
<path d="M1456,694 L1462,691" stroke-width="1.7"/>
<path d="M1360,738 L1382.5,750" stroke-width="1.7"/>
<path d="M1370.5,741.7 L1403.5,732.7 L1420,741.7" stroke-width="1.7"/>
<path d="M1350.5,781 C1351.6,780.6 1355.2,780.3 1357,778.5 C1358.8,776.7 1359.5,773.5 1361,770 C1362.5,766.5 1363.5,760.5 1366,757.5 C1368.5,754.5 1372.9,752.9 1376,752 C1379.1,751.1 1381.9,750.8 1384.5,752.2 C1387.1,753.6 1390.3,756.1 1391.5,760.5 C1392.7,764.9 1392.2,774 1391.5,778.5 C1390.8,783 1386.4,784.4 1387,787.5 C1387.6,790.6 1392.5,793.8 1395,797 C1397.5,800.2 1400.8,805.3 1402,807" stroke-width="1.7"/>
<path d="M1350.5,790 C1351.1,790.8 1352.4,792.9 1354,795 C1355.6,797.1 1357.8,801 1360,802.5 C1362.2,804 1364,805.1 1367.5,804 C1371,802.9 1378.2,797.2 1381,795.7 C1383.8,794.2 1382.5,794.6 1384,795 C1385.5,795.4 1389,797.5 1390,798" stroke-width="1.7"/>
<ellipse cx="1372.3" cy="778.1" rx="14.6" ry="6.7" transform="rotate(-60 1372.3 778.1)" stroke-width="1.7"/>
<path d="M1250.5,837 L1350.5,781" stroke-width="1.7"/>
<path d="M1255,843.7 L1350.5,790" stroke-width="1.7"/>
<path d="M1401,795 C1404.5,790.7 1414.6,775.2 1422,769 C1429.4,762.8 1438.9,758.9 1445.4,758 C1451.9,757.1 1458,759.2 1461,763.6 C1464,768 1463.2,780.9 1463.6,784.4" stroke-width="1.7"/>
<path d="M1419.4,810 C1420.7,806.6 1423.1,794.3 1427,789.6 C1430.9,784.9 1437.1,782.9 1442.8,782 C1448.5,781.1 1454.5,781.8 1461,784.4 C1467.5,787 1477.9,792.2 1481.8,797.4 C1485.7,802.6 1485.7,811.7 1484.4,815.6 C1483.1,819.5 1477.5,822.8 1474,821 C1470.5,819.2 1470.1,805.2 1463.6,805 C1457.1,804.8 1439.8,817.1 1435,819.5" stroke-width="1.7"/>
<path d="M1409,808 C1415.5,811 1435.9,818.7 1448,826 C1460.1,833.3 1474.5,845.1 1481.8,852 C1489.1,858.9 1490.7,863.3 1492,867.6 C1493.3,871.9 1490,876.3 1489.6,878" stroke-width="1.7"/>
<path d="M1260.8,862.4 L1276.4,871.5 L1299.8,849.4 L1338.8,870 L1357,852 L1409,885.8" stroke-width="1.7"/>
<path d="M1336,805 L1346.6,808 L1359.6,849.4" stroke-width="1.7"/>
<ellipse cx="1323.1" cy="960.9" rx="59" ry="30.2" transform="rotate(39 1323.1 960.9)" stroke-width="1.7"/>
<path d="M1260.8,897 L1299.8,917.8" stroke-width="1.7"/>
<path d="M1264.7,954 L1312.8,981.5" stroke-width="1.7"/>
<path d="M1372.6,1001 L1440.2,1040" stroke-width="1.7"/>
<path d="M1374,996.9 L1419.8,949.9" stroke-width="1.7"/>
<path d="M1408.4,885.7 C1408.1,889.2 1406.7,899.6 1406.3,907 C1405.9,914.4 1405.8,923.8 1406.3,930 C1406.8,936.2 1406.8,940.7 1409,944 C1411.2,947.3 1418,948.9 1419.8,949.9" stroke-width="1.7"/>
<path d="M1411.2,961.3 L1456.8,987" stroke-width="1.7"/>
<path d="M1388.5,787.5 C1390.8,790.8 1397.8,796.6 1402,807 C1406.2,817.4 1409.1,834 1414,850 C1418.9,866 1429.3,892.6 1431.2,902.8 C1433.1,913 1426.8,906.8 1425.5,911.3 C1424.2,915.8 1423.3,923.7 1423.3,929.9 C1423.3,936.1 1423.7,943.9 1425.5,948.4 C1427.3,952.9 1429.7,954.6 1434,957 C1438.3,959.4 1446.3,956.3 1451.1,962.7 C1455.8,969.1 1460.6,990 1462.5,995.5" stroke-width="1.7"/>
<path d="M1398,797 C1399.7,801.2 1404.4,813.2 1408,822 C1411.6,830.8 1414.8,838.2 1419.8,850 C1424.8,861.8 1435,883.8 1438.3,892.8 C1441.6,901.8 1438.5,900.6 1439.7,904.2 C1440.9,907.8 1444.7,910.6 1445.4,914.2 C1446.1,917.8 1445.9,922.8 1444,925.6 C1442.1,928.5 1436,929.6 1434,931.3 C1432,933 1432,932.8 1431.9,935.6 C1431.8,938.5 1432,945.3 1433.3,948.4 C1434.6,951.5 1436.7,953.1 1439.7,954.1 C1442.7,955.1 1448.2,953.6 1451.1,954.1 C1453.9,954.6 1454.4,950.6 1456.8,957 C1459.2,963.4 1464,986.7 1465.4,992.6" stroke-width="1.7"/>
<path d="M1435.4,897.1 C1436.4,895.9 1438.7,891 1441.1,890 C1443.5,889 1447.1,890 1449.7,891.4 C1452.3,892.8 1455.6,895.2 1456.8,898.5 C1458,901.8 1457.5,907.2 1456.8,911.3 C1456.1,915.3 1454.5,918.8 1452.6,922.8 C1450.7,926.8 1446.6,932 1445.4,935.6 C1444.2,939.2 1444,941.6 1445.4,944.2 C1446.8,946.8 1452.6,950.1 1454,951.3" stroke-width="1.7"/>
<path d="M1464,996 C1467.6,995.1 1474.6,998.2 1477.5,1000.2 C1480.4,1002.2 1481,1004.7 1481.5,1008.3 C1482,1011.9 1481.3,1017.4 1480.2,1021.9 C1479.1,1026.4 1477,1031.8 1474.8,1035.4 C1472.5,1039 1471.2,1041.7 1466.7,1043.5 C1462.2,1045.3 1451.6,1047.5 1447.7,1046.2 C1443.8,1044.9 1443.8,1039.9 1443.6,1035.4 C1443.4,1030.9 1444.3,1024.1 1446.3,1019.1 C1448.3,1014.1 1452.8,1009.5 1455.8,1005.6 C1458.8,1001.8 1460.4,996.9 1464,996Z" stroke-width="1.7"/>
<ellipse cx="1463.2" cy="1022.5" rx="12.2" ry="8.5" transform="rotate(-62 1463.2 1022.5)" stroke-width="1.7"/>
<path d="M1461.2,954 C1462.3,948.9 1464.4,944.3 1468,940 C1471.6,935.7 1478.4,930.1 1482.9,928.4 C1487.4,926.7 1492.4,927.8 1495.1,929.8 C1497.8,931.8 1498.9,936.1 1499.1,940.6 C1499.3,945.1 1498.2,951.9 1496.4,956.9 C1494.6,961.9 1491.9,966.6 1488.3,970.4 C1484.7,974.2 1478.4,978.1 1474.8,979.9 C1471.2,981.7 1469,982.8 1466.7,981.2 C1464.4,979.6 1462.1,974.9 1461.2,970.4 C1460.3,965.9 1460.1,959.1 1461.2,954Z" stroke-width="1.7"/>
<ellipse cx="1478.8" cy="953.5" rx="14" ry="7.7" transform="rotate(-62 1478.8 953.5)" stroke-width="1.7"/>
<path d="M1495.1,927 C1498.5,925.9 1509.8,920.7 1515.4,920.3 C1521,919.9 1525.5,921 1528.9,924.4 C1532.3,927.8 1534.8,933.8 1535.7,940.6 C1536.6,947.4 1535.9,957.3 1534.3,965 C1532.7,972.7 1529.8,979.9 1526.2,986.7 C1522.6,993.5 1517.4,1000.9 1512.7,1005.6 C1508,1010.3 1503,1013.1 1497.8,1015.1 C1492.6,1017.1 1484.2,1017.3 1481.5,1017.8" stroke-width="1.7"/>
<path d="M1523.5,901.4 C1526.7,902.5 1538.2,903.8 1542.5,908.1 C1546.8,912.4 1548.1,919.3 1549.2,927 C1550.3,934.7 1550.3,946.3 1549.2,954.2 C1548.1,962.1 1545.9,966.6 1542.5,974.5 C1539.1,982.4 1534.6,993.6 1528.9,1001.5 C1523.2,1009.4 1515.4,1016.5 1508.6,1021.9 C1501.8,1027.3 1493.9,1031.5 1488.3,1034 C1482.7,1036.5 1477,1036.2 1474.8,1036.7" stroke-width="1.7"/>
<ellipse cx="1557.8" cy="966.5" rx="29.1" ry="8.3" transform="rotate(-60 1557.8 966.5)" stroke-width="1.7"/>
<ellipse cx="1557.5" cy="970" rx="14.7" ry="4.9" transform="rotate(-60 1557.5 970)" stroke-width="1.7"/>
<ellipse cx="1617" cy="906.8" rx="58.1" ry="35.6" transform="rotate(-62 1617 906.8)" stroke-width="1.7"/>
<ellipse cx="1616.3" cy="906.8" rx="34" ry="22.3" transform="rotate(-62 1616.3 906.8)" stroke-width="1.7"/>
<path d="M1592,912 C1594,911.2 1600.8,910 1604,907.5 C1607.2,905 1609.5,901.5 1611.5,897 C1613.5,892.5 1615.2,883.2 1616,880.5" stroke-width="1.7"/>
<path d="M1593.5,919.5 C1596,918 1604.5,914.2 1608.5,910.5 C1612.5,906.8 1615.2,902.5 1617.5,897 C1619.8,891.5 1621.2,880.8 1622,877.5" stroke-width="1.7"/>
<path d="M1595,927 C1597.8,925.2 1606.8,923.5 1611.5,916.5 C1616.2,909.5 1621.5,890.2 1623.5,885" stroke-width="1.7"/>
<path d="M1490,891 L1505,898.5" stroke-width="1.7"/>
<path d="M1460,909 L1487,889.5 L1505,898.5" stroke-width="1.7"/>
<path d="M1604,899.6 L1656,929.5" stroke-width="2"/>
<path d="M1450.4,1066.5 C1451.3,1067.9 1453.1,1073.1 1455.8,1074.7 C1458.5,1076.3 1463.1,1077.4 1466.7,1076 C1470.3,1074.6 1474.8,1070.6 1477.5,1066.5 C1480.2,1062.4 1481.8,1055.2 1482.9,1051.6 C1484,1048 1484.1,1046 1484.3,1044.9" stroke-width="1.7"/>
<path d="M1465.3,1043.5 L1485.6,1043.5 L1499.1,1030" stroke-width="1.7"/>
<path d="M1447.5,1045 L1367,1197 Q1358,1213 1340,1214 L1310,1216 Q1290,1219 1270,1237.5" stroke-width="1.7"/>
<path d="M1455,1057.5 L1375,1200 Q1365,1219 1345,1221 L1315,1223 Q1295,1227 1275,1244" stroke-width="1.7"/>
<path d="M1734,905 L1760,855" stroke-width="1.7"/>
<path d="M1682.5,997.5 C1679.1,995.9 1666.6,991.8 1662,988 C1657.4,984.2 1656,981.3 1655,975 C1654,968.7 1654.7,957.5 1656,950 C1657.3,942.5 1659.8,935.8 1663,930 C1666.2,924.2 1668.8,919 1675,915 C1681.2,911 1693.8,907.2 1700,906 C1706.2,904.8 1708.3,906.5 1712,908 C1715.7,909.5 1720.3,913.8 1722,915" stroke-width="2"/>
<path d="M1730.6,967.3 L1728.3,972.4 L1725.5,977.2 L1722.5,981.6 L1719.1,985.6 L1715.5,989.1 L1711.6,992.1 L1707.7,994.4 L1703.7,996.1 L1699.7,997.2 L1695.8,997.5 L1692,997.1 L1688.5,996.1 L1685.2,994.4 L1682.2,992 L1679.6,989.1 L1677.5,985.5 L1675.8,981.5 L1674.6,977.1 L1673.9,972.3 L1673.7,967.3 L1674.1,962 L1674.9,956.7 L1676.3,951.4 L1678.1,946.2 L1680.4,941.1 L1683.2,936.3 L1686.2,931.9 L1689.6,927.9 L1693.2,924.4 L1697.1,921.4 L1701,919.1 L1705,917.4 L1709,916.3 L1712.9,916 L1716.7,916.4 L1720.2,917.4 L1723.5,919.1 L1726.5,921.5 L1729.1,924.4 L1731.2,928 L1732.9,932 L1734.1,936.4 L1734.8,941.2 L1735,946.2 L1734.6,951.5 L1733.8,956.8 L1732.4,962.1 L1730.6,967.3Z" stroke-width="2" fill="#fff"/>
<ellipse cx="1704.4" cy="957.5" rx="17.5" ry="26.4" transform="rotate(25 1704.4 957.5)" stroke-width="2"/>
<path d="M1686.5,970.5 C1688.8,968.2 1696.8,962.8 1700,957 C1703.2,951.2 1705,939.5 1706,936" stroke-width="1.7"/>
<path d="M1689.5,978 C1692.2,976 1701.8,972.8 1706,966 C1710.2,959.2 1713.5,942.2 1715,937.5" stroke-width="1.7"/>
<path d="M1694,981 C1697,979 1707.8,975 1712,969 C1716.2,963 1718.2,949 1719.5,945" stroke-width="1.7"/>
<path d="M1705,959 L1742,979" stroke-width="2"/>
<path d="M1720,916 L1784,822.5" stroke-width="2"/>
<path d="M1755.9,985.9 C1757.4,983.7 1760.9,977.2 1764.9,972.9 C1768.9,968.6 1774.9,963 1779.9,960 C1784.9,957 1788.2,955.3 1794.9,955 C1801.6,954.7 1811.8,956.8 1819.8,958 C1827.8,959.2 1836.1,960 1842.8,962 C1849.5,964 1855.5,967.4 1859.7,970 C1863.9,972.6 1866.4,976.6 1867.7,977.9" stroke-width="2"/>
<path d="M1867.7,977.9 L1867.7,980" stroke-width="2"/>
<path d="M1755.9,985.9 L1791.9,1007.9" stroke-width="2"/>
<path d="M1791.9,1007.9 C1796.6,1005.6 1812.7,997.7 1819.8,993.9 C1826.9,990.1 1830.6,986.7 1834.8,984.9 C1839,983.1 1840.8,982.7 1844.8,982.9 C1848.8,983.1 1856.4,985.4 1858.7,985.9" stroke-width="2"/>
<path d="M1858.7,985.9 L1867.7,980" stroke-width="2"/>
<path d="M1804.8,1012.9 L1857.7,986.9 L1867.7,981.9" stroke-width="2"/>
<path d="M1791.9,1007.9 L1804.8,1012.9" stroke-width="2"/>
<path d="M1804.8,1012.9 C1804.3,1014.1 1802.1,1016.3 1802,1020 C1801.9,1023.7 1803,1029.2 1804,1035 C1805,1040.8 1807.3,1051.7 1808,1055" stroke-width="2"/>
<path d="M1791.9,1007.9 L1805.8,1059.8 L1809.8,1072.7" stroke-width="2"/>
<path d="M1867.7,979.9 L1865.7,1027.8 L1850.7,1026.8" stroke-width="2"/>
<path d="M1850.7,1026.8 L1859.7,1034.8 L1848,1033" stroke-width="2"/>
<path d="M1859.7,1034.8 C1858.4,1037.3 1855.9,1044.6 1851.7,1049.8 C1847.5,1055 1841.8,1061.9 1834.8,1065.7 C1827.8,1069.5 1814,1071.5 1809.8,1072.7" stroke-width="2"/>
<clipPath id="bosshole"><ellipse cx="1830.8" cy="1029.8" rx="16.1" ry="28.5" transform="rotate(30 1830.8 1029.8)"/></clipPath>
<path d="M1800,1022 L1860,992 M1800,1030 L1860,1000 M1800,1038 L1860,1008 M1800,1046 L1860,1016 M1800,1054 L1860,1024 M1800,1062 L1860,1032 M1800,1070 L1860,1040 M1800,1078 L1860,1048 M1822,1000 L1812,1060 M1833,1000 L1823,1060 M1844,1000 L1834,1060" stroke-width="1.9" clip-path="url(#bosshole)"/>
<ellipse cx="1830.8" cy="1029.8" rx="16.1" ry="28.5" transform="rotate(30 1830.8 1029.8)" stroke-width="2"/>
<ellipse cx="1849.3" cy="970" rx="9.8" ry="3.9" transform="rotate(20 1849.3 970)" stroke-width="1.6"/>
<path d="M1891,869 L1845,961" stroke-width="2"/>
<path d="M1755.9,985.9 C1754.1,986.7 1747.9,988.2 1744.9,990.9 C1741.9,993.6 1739.5,995.4 1738,1001.9 C1736.5,1008.4 1736,1022.6 1736,1029.8 C1736,1037 1735.5,1036.4 1738,1044.8 C1740.5,1053.2 1743.3,1059.6 1750.9,1080 C1758.5,1100.4 1778,1152.7 1783.4,1167.2" stroke-width="2"/>
<path d="M1809.8,1072.7 C1810,1073.9 1807.8,1069.4 1810.8,1080 C1813.8,1090.6 1825.1,1127 1827.9,1136.4" stroke-width="2"/>
<path d="M1746.5,998.6 L1795.4,1126.2 Q1801,1155 1781.7,1168.9 L1667.1,1249.3" stroke-width="2"/>
<path d="M1810.8,1080 L1827.9,1136.4 Q1832,1162 1807.3,1174.1 L1680.8,1257.9" stroke-width="2"/>
<path d="M1827.9,1136.4 C1829,1141.2 1833.9,1156.4 1834.7,1165.5 C1835.5,1174.6 1834.7,1182.7 1833,1191.2 C1831.3,1199.8 1828.4,1208.8 1824.4,1216.8 C1820.4,1224.8 1816.5,1231.6 1809.1,1239 C1801.7,1246.4 1793.1,1253 1780,1261.3 C1766.9,1269.6 1738.7,1284.1 1730.4,1288.7" stroke-width="2"/>
<path d="M1769.7,1215.1 C1770.1,1218.2 1772.3,1225.6 1772.3,1233.9 C1772.3,1242.2 1770.1,1259.6 1769.7,1264.7" stroke-width="2"/>
<path d="M1805.6,1090.3 L1803.9,1105.7 L1819.3,1115.9" stroke-width="1.8" stroke-dasharray="5 3"/>
<path d="M1615.6,1302.8 L1667.1,1249.3 L1730.4,1288.7 L1744.3,1300.2 L1749.5,1310.6" stroke-width="2"/>
<path d="M1619.5,1300.2 C1623.8,1298.2 1636.1,1291.7 1645,1288 C1653.9,1284.3 1663.8,1280.2 1672.8,1278.1 C1681.8,1276 1694.5,1275.9 1698.8,1275.5" stroke-width="2"/>
<path d="M1615.6,1302.8 L1614.3,1309.3 L1629.9,1363.9 L1688.4,1397.7 L1700,1403" stroke-width="2"/>
<path d="M1622.8,1311.9 L1676.7,1343.1" stroke-width="2"/>
<path d="M1696.2,1298.5 L1696.1,1299.5 L1695.9,1300.5 L1695.6,1301.5 L1695.1,1302.4 L1694.5,1303.3 L1693.8,1304.2 L1692.9,1305 L1692,1305.7 L1691,1306.3 L1689.8,1306.9 L1688.7,1307.4 L1687.4,1307.7 L1686.1,1308 L1684.8,1308.1 L1683.5,1308.2 L1682.2,1308.1 L1680.9,1308 L1679.6,1307.7 L1678.3,1307.4 L1677.2,1306.9 L1676,1306.3 L1675,1305.7 L1674.1,1305 L1673.2,1304.2 L1672.5,1303.3 L1671.9,1302.4 L1671.4,1301.5 L1671.1,1300.5 L1670.9,1299.5 L1670.8,1298.5" stroke-width="2"/>
<path d="M1670.8,1291.7 L1670.8,1298.5" stroke-width="2"/>
<path d="M1696.2,1291.7 L1696.2,1298.5" stroke-width="2"/>
<ellipse cx="1683.5" cy="1291.7" rx="12.7" ry="9.7" transform="rotate(0 1683.5 1291.7)" stroke-width="2"/>
<ellipse cx="1683.2" cy="1291" rx="6.5" ry="5.2" transform="rotate(0 1683.2 1291)" stroke-width="2"/>
<ellipse cx="1686.5" cy="1345.7" rx="9.8" ry="12.3" transform="rotate(-30 1686.5 1345.7)" stroke-width="2"/>
<path d="M1686,1339 L1693,1345 L1687,1352 L1680,1346 Z" stroke-width="1.6"/>
<clipPath id="grip"><path d="M1740,1304 L1752,1315 L1815,1352 L1790,1403 L1700,1403 L1693,1380 L1691,1360 L1699,1338 L1717,1321 Z"/></clipPath>
<path d="M1480,1290 L1546,1410 M1488.5,1290 L1554.5,1410 M1497,1290 L1563,1410 M1505.5,1290 L1571.5,1410 M1514,1290 L1580,1410 M1522.5,1290 L1588.5,1410 M1531,1290 L1597,1410 M1539.5,1290 L1605.5,1410 M1548,1290 L1614,1410 M1556.5,1290 L1622.5,1410 M1565,1290 L1631,1410 M1573.5,1290 L1639.5,1410 M1582,1290 L1648,1410 M1590.5,1290 L1656.5,1410 M1599,1290 L1665,1410 M1607.5,1290 L1673.5,1410 M1616,1290 L1682,1410 M1624.5,1290 L1690.5,1410 M1633,1290 L1699,1410 M1641.5,1290 L1707.5,1410 M1650,1290 L1716,1410 M1658.5,1290 L1724.5,1410 M1667,1290 L1733,1410 M1675.5,1290 L1741.5,1410 M1684,1290 L1750,1410 M1692.5,1290 L1758.5,1410 M1701,1290 L1767,1410 M1709.5,1290 L1775.5,1410 M1718,1290 L1784,1410 M1726.5,1290 L1792.5,1410 M1735,1290 L1801,1410 M1743.5,1290 L1809.5,1410 M1752,1290 L1818,1410 M1760.5,1290 L1826.5,1410 M1769,1290 L1835,1410 M1777.5,1290 L1843.5,1410 M1786,1290 L1852,1410 M1794.5,1290 L1860.5,1410 M1803,1290 L1869,1410 M1811.5,1290 L1877.5,1410 M1820,1290 L1886,1410 M1828.5,1290 L1894.5,1410 M1837,1290 L1903,1410 M1845.5,1290 L1911.5,1410 M1680,1240 L1830,1135 M1680,1248.5 L1830,1143.5 M1680,1257 L1830,1152 M1680,1265.5 L1830,1160.5 M1680,1274 L1830,1169 M1680,1282.5 L1830,1177.5 M1680,1291 L1830,1186 M1680,1299.5 L1830,1194.5 M1680,1308 L1830,1203 M1680,1316.5 L1830,1211.5 M1680,1325 L1830,1220 M1680,1333.5 L1830,1228.5 M1680,1342 L1830,1237 M1680,1350.5 L1830,1245.5 M1680,1359 L1830,1254 M1680,1367.5 L1830,1262.5 M1680,1376 L1830,1271 M1680,1384.5 L1830,1279.5 M1680,1393 L1830,1288 M1680,1401.5 L1830,1296.5 M1680,1410 L1830,1305 M1680,1418.5 L1830,1313.5 M1680,1427 L1830,1322 M1680,1435.5 L1830,1330.5 M1680,1444 L1830,1339 M1680,1452.5 L1830,1347.5 M1680,1461 L1830,1356 M1680,1469.5 L1830,1364.5 M1680,1478 L1830,1373 M1680,1486.5 L1830,1381.5 M1680,1495 L1830,1390 M1680,1503.5 L1830,1398.5 M1680,1512 L1830,1407 M1680,1520.5 L1830,1415.5" stroke-width="2" clip-path="url(#grip)"/>
<path d="M1737.8,1304.1 C1734.3,1306.9 1723.5,1315.4 1717,1321 C1710.5,1326.6 1703.1,1331.4 1698.8,1337.9 C1694.5,1344.4 1691.4,1350.9 1691,1360 C1690.6,1369.1 1694.7,1385.3 1696.2,1392.5 C1697.7,1399.7 1699.4,1401.2 1700,1403" stroke-width="2"/>
<path d="M1749.5,1315.8 L1814.5,1352.2" stroke-width="2"/>
<path d="M1730,1313 L1749.5,1315.8" stroke-width="2"/>
<path d="M1830.8,1407.3 L1828,1412.8 L1824.9,1417.9 L1821.4,1422.7 L1817.7,1427.1 L1813.8,1430.9 L1809.8,1434.1 L1805.7,1436.6 L1801.6,1438.5 L1797.7,1439.6 L1793.8,1440 L1790.2,1439.6 L1786.9,1438.5 L1783.9,1436.7 L1781.3,1434.2 L1779.2,1431 L1777.5,1427.2 L1776.3,1422.9 L1775.7,1418.2 L1775.5,1413 L1775.9,1407.6 L1776.8,1401.9 L1778.3,1396.2 L1780.2,1390.5 L1782.6,1384.9 L1785.4,1379.4 L1788.5,1374.3 L1792,1369.5 L1795.7,1365.1 L1799.6,1361.3 L1803.6,1358.1 L1807.7,1355.6 L1811.8,1353.7 L1815.7,1352.6 L1819.6,1352.2 L1823.2,1352.6 L1826.5,1353.7 L1829.5,1355.5 L1832.1,1358 L1834.2,1361.2 L1835.9,1365 L1837.1,1369.3 L1837.7,1374 L1837.9,1379.2 L1837.5,1384.6 L1836.6,1390.3 L1835.1,1396 L1833.2,1401.7 L1830.8,1407.3Z" stroke-width="2" fill="#fff"/>
<ellipse cx="1806.7" cy="1404.8" rx="13.7" ry="27.1" transform="rotate(25 1806.7 1404.8)" stroke-width="2"/>
<path d="M1821.8,1385.4 L1822.7,1386.4 L1823.5,1387.7 L1824.1,1389.2 L1824.5,1390.9 L1824.8,1392.8 L1824.9,1394.8 L1824.8,1397 L1824.6,1399.2 L1824.2,1401.5 L1823.6,1403.9 L1822.9,1406.3 L1822,1408.7 L1821,1411.1 L1819.9,1413.5 L1818.6,1415.7 L1817.3,1417.8 L1815.8,1419.8 L1814.3,1421.7 L1812.8,1423.4 L1811.2,1424.9 L1809.6,1426.1 L1807.9,1427.2 L1806.4,1428" stroke-width="1.6"/>
<path d="M1829.6,1122.8 L1906.5,1167.2 L1899.7,1192.9" stroke-width="2" stroke-dasharray="60 4 3 4"/>
<ellipse cx="1896.8" cy="1204" rx="11.9" ry="5.3" transform="rotate(15 1896.8 1204)" stroke-width="2"/>
<path d="M1885.2,1203.1 L1875.8,1244.2 L1863.8,1281.8" stroke-width="2"/>
<path d="M1907.4,1206.6 L1896.3,1249.3 L1886,1283.5" stroke-width="2"/>
<path d="M1904.6,1217 L1904.3,1217.4 L1903.8,1217.7 L1903.2,1218 L1902.5,1218.2 L1901.7,1218.4 L1900.8,1218.6 L1899.8,1218.6 L1898.8,1218.6 L1897.7,1218.6 L1896.6,1218.5 L1895.4,1218.3 L1894.3,1218.1 L1893.1,1217.8 L1892,1217.4 L1890.9,1217.1 L1889.8,1216.7 L1888.7,1216.2 L1887.8,1215.7 L1886.9,1215.2 L1886.1,1214.7 L1885.3,1214.1 L1884.7,1213.6 L1884.2,1213 L1883.8,1212.5 L1883.5,1211.9 L1883.3,1211.4 L1883.3,1210.9" stroke-width="1.8"/>
<path d="M1902.7,1225.6 L1902.3,1226 L1901.9,1226.3 L1901.2,1226.6 L1900.5,1226.8 L1899.7,1227 L1898.9,1227.2 L1897.9,1227.2 L1896.9,1227.2 L1895.8,1227.2 L1894.7,1227.1 L1893.5,1226.9 L1892.4,1226.7 L1891.2,1226.4 L1890.1,1226 L1888.9,1225.7 L1887.9,1225.3 L1886.8,1224.8 L1885.9,1224.3 L1885,1223.8 L1884.1,1223.3 L1883.4,1222.7 L1882.8,1222.2 L1882.3,1221.6 L1881.9,1221.1 L1881.6,1220.5 L1881.4,1220 L1881.4,1219.5" stroke-width="1.8"/>
<path d="M1900.8,1234.1 L1900.5,1234.5 L1900,1234.8 L1899.4,1235.1 L1898.7,1235.3 L1897.9,1235.5 L1897,1235.7 L1896,1235.7 L1895,1235.7 L1893.9,1235.7 L1892.8,1235.6 L1891.6,1235.4 L1890.5,1235.2 L1889.3,1234.9 L1888.2,1234.5 L1887.1,1234.2 L1886,1233.8 L1884.9,1233.3 L1884,1232.8 L1883.1,1232.3 L1882.3,1231.8 L1881.5,1231.2 L1880.9,1230.7 L1880.4,1230.1 L1880,1229.6 L1879.7,1229 L1879.5,1228.5 L1879.5,1228" stroke-width="1.8"/>
<path d="M1899,1242.6 L1898.6,1243 L1898.1,1243.3 L1897.5,1243.6 L1896.8,1243.8 L1896,1244 L1895.1,1244.2 L1894.1,1244.2 L1893.1,1244.2 L1892,1244.2 L1890.9,1244.1 L1889.8,1243.9 L1888.6,1243.7 L1887.4,1243.4 L1886.3,1243 L1885.2,1242.7 L1884.1,1242.3 L1883.1,1241.8 L1882.1,1241.3 L1881.2,1240.8 L1880.4,1240.3 L1879.6,1239.7 L1879,1239.2 L1878.5,1238.6 L1878.1,1238.1 L1877.8,1237.5 L1877.7,1237 L1877.6,1236.5" stroke-width="1.8"/>
<path d="M1897.4,1249.6 L1897,1250 L1896.5,1250.3 L1895.9,1250.6 L1895.2,1250.8 L1894.4,1251 L1893.5,1251.2 L1892.6,1251.2 L1891.5,1251.2 L1890.5,1251.2 L1889.3,1251.1 L1888.2,1250.9 L1887,1250.7 L1885.9,1250.4 L1884.7,1250 L1883.6,1249.7 L1882.5,1249.3 L1881.5,1248.8 L1880.5,1248.3 L1879.6,1247.8 L1878.8,1247.3 L1878.1,1246.7 L1877.5,1246.2 L1877,1245.6 L1876.5,1245.1 L1876.3,1244.5 L1876.1,1244 L1876.1,1243.5" stroke-width="1.8"/>
<ellipse cx="1872.3" cy="1283.5" rx="27.4" ry="7.7" transform="rotate(15 1872.3 1283.5)" stroke-width="2"/>
<path d="M1897.5,1294.5 L1896.6,1295.4 L1895.5,1296.1 L1894.1,1296.8 L1892.5,1297.3 L1890.6,1297.7 L1888.6,1298.1 L1886.3,1298.2 L1883.9,1298.3 L1881.3,1298.2 L1878.6,1298.1 L1875.9,1297.8 L1873.1,1297.3 L1870.3,1296.8 L1867.6,1296.1 L1864.8,1295.4 L1862.2,1294.6 L1859.7,1293.7 L1857.3,1292.7 L1855.1,1291.6 L1853.2,1290.5 L1851.4,1289.4 L1849.8,1288.2 L1848.6,1287.1 L1847.6,1285.9 L1846.9,1284.8 L1846.4,1283.7" stroke-width="2"/>
<path d="M1848.4,1293.8 L1850.1,1300.6 L1877.5,1309.2 L1887.7,1307.5 L1889.4,1295.5" stroke-width="2"/>
<path d="M1858.5,1297.5 L1859,1305.5" stroke-width="2"/>
<path d="M1877.5,1300.5 L1877.5,1309.2" stroke-width="2"/>
<path d="M1894.6,1254.4 L1940.7,1263.9" stroke-width="2"/>
</g>
<g>
<text transform="translate(679.5 119) scale(1.05 1)" font-size="37" stroke="#000" stroke-width="0.5">1</text>
<text transform="translate(962.5 287) scale(1.05 1)" font-size="37" stroke="#000" stroke-width="0.5">3</text>
<text transform="translate(1103.2 369.3) scale(1.05 1)" font-size="37" stroke="#000" stroke-width="0.5">5</text>
<text transform="translate(1211 432.5) scale(1.05 1)" font-size="37" stroke="#000" stroke-width="0.5">4</text>
<text transform="translate(177 748) scale(1.05 1)" font-size="37" stroke="#000" stroke-width="0.5">14</text>
<text transform="translate(66 680) scale(1.05 1)" font-size="37" stroke="#000" stroke-width="0.5">15</text>
<text transform="translate(522 456) scale(1.05 1)" font-size="37" stroke="#000" stroke-width="0.5">10</text>
<text transform="translate(702 567) scale(1.05 1)" font-size="37" stroke="#000" stroke-width="0.5">2</text>
<text transform="translate(807.5 622.5) scale(1.05 1)" font-size="37" stroke="#000" stroke-width="0.5">9</text>
<text transform="translate(628 805) scale(1.05 1)" font-size="37" stroke="#000" stroke-width="0.5">12</text>
<text transform="translate(581 873) scale(1.05 1)" font-size="37" stroke="#000" stroke-width="0.5">13</text>
<text transform="translate(536 933) scale(1.05 1)" font-size="37" stroke="#000" stroke-width="0.5">11</text>
<text transform="translate(1787.5 816.8) scale(1.05 1)" font-size="37" stroke="#000" stroke-width="0.5">8</text>
<text transform="translate(1895 865) scale(1.05 1)" font-size="37" stroke="#000" stroke-width="0.5">6</text>
<text transform="translate(1953 1277.6) scale(1.05 1)" font-size="37" stroke="#000" stroke-width="0.5">7</text>
</g>
</svg>
</body></html>
